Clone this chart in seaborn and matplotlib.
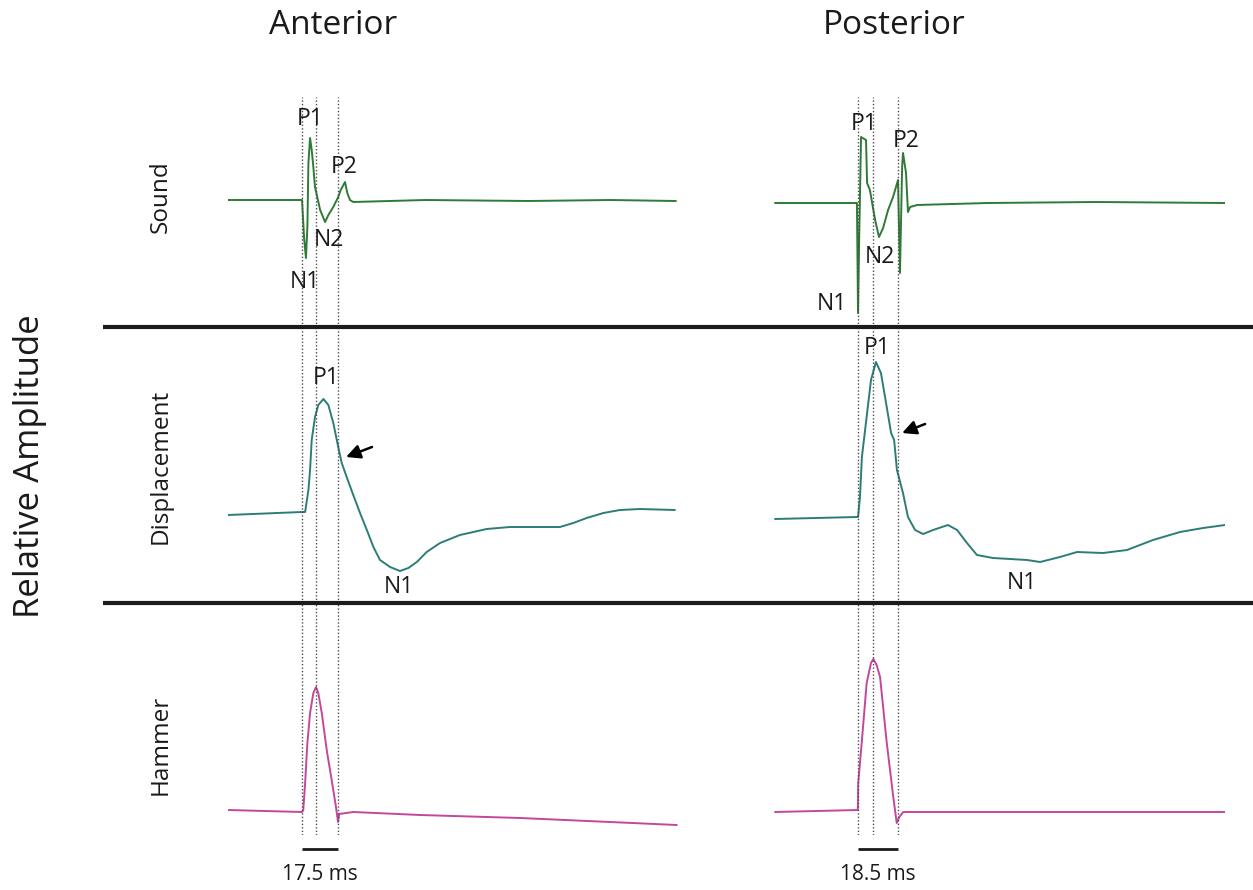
import matplotlib
matplotlib.use("Agg")
import matplotlib.pyplot as plt
from matplotlib.lines import Line2D
import seaborn as sns
import pandas as pd

# ---------------- data (time in ms from onset, relative amplitude) ----------------
columns = ["Anterior", "Posterior"]
rows = ["Sound", "Displacement", "Hammer"]

sound_ant_t = [-36.0, 0.0, 1.0, 1.9, 2.6, 3.1, 3.9, 4.7, 5.5, 6.3, 7.4, 8.8, 11.2, 12.8,
               15.2, 17.6, 18.8, 20.9, 22.0, 23.3, 24.9, 60.0, 110.0, 150.0, 181.8]
sound_ant_amp = [0, 0, -38, -58, -27, 37, 62, 50, 33, 13, 3, -10, -22, -15,
                 -7, 3, 10, 18, 7, 0, -2, 0, -1, 0, -1]

sound_post_t = [-38.4, -0.5, 0.0, 0.5, 1.4, 3.7, 4.2, 5.5, 7.9, 9.7, 11.6, 13.9, 16.2,
                18.5, 19.4, 20.4, 20.8, 22.2, 23.1, 24.1, 27.3, 60.0, 110.0, 169.7]
sound_post_amp = [-3, -3, -113, -43, 63, 60, 17, 10, -20, -37, -28, -10, 3,
                  20, -73, 33, 47, 27, -12, -7, -5, -3, -2, -3]

disp_ant_t = [-36.0, -0.1, 1.5, 3.1, 3.9, 4.7, 6.3, 7.9, 10.4, 12.8, 15.2, 17.6, 19.3,
              21.7, 24.9, 28.2, 31.5, 34.7, 37.9, 42.8, 47.6, 51.7, 55.8, 60.6, 67.1,
              76.8, 89.8, 101.1, 114.1, 125.4, 131.9, 138.4, 146.5, 154.6, 164.3, 181.3]
disp_ant_amp = [0, 3, 3, 25, 45, 75, 98, 110, 116, 110, 92, 68, 52,
                38, 20, 2, -15, -32, -45, -52, -56, -53, -47, -37, -28,
                -20, -14, -12, -12, -12, -8, -3, 2, 5, 6, 5]

disp_post_t = [-38.4, -0.5, 0.0, 0.9, 1.8, 4.2, 6.0, 8.3, 10.6, 12.5, 15.3, 16.7, 18.0,
               20.8, 23.1, 26.4, 30.1, 34.7, 41.6, 45.8, 50.4, 55.0, 62.4, 78.2, 84.2,
               93.4, 101.3, 113.3, 124.4, 136.4, 148.9, 159.6, 169.7]
disp_post_amp = [-4, -2, -2, 18, 58, 102, 135, 153, 142, 118, 82, 75, 45,
                 22, -2, -15, -19, -15, -10, -15, -28, -40, -43, -45, -47,
                 -42, -37, -38, -35, -25, -17, -13, -10]

hammer_ant_t = [-36.0, 0.0, 0.6, 1.5, 2.6, 3.9, 5.5, 6.8, 7.9, 9.6, 12.0, 14.4, 16.5,
                17.5, 18.1, 24.9, 57.4, 106.0, 149.7, 182.2]
hammer_ant_amp = [2, 0, 2, 29, 69, 99, 119, 125, 119, 99, 62, 32, 5,
                  -10, -2, 0, -3, -6, -10, -13]

hammer_post_t = [-38.4, -0.1, 0.1, 1.7, 4.0, 6.0, 7.1, 8.6, 10.2, 13.3, 16.3, 17.9,
                 19.1, 20.9, 169.7]
hammer_post_amp = [0, 2, 29, 69, 129, 149, 153, 147, 135, 69, 15, -11,
                   -5, 0, 0]

# event times marked by dotted guides (N1, P1, P2 of the sound) in ms
events_ant = [0.0, 6.8, 17.5]
events_post = [0.0, 7.1, 18.5]

# peak labels: (row, label, time, amplitude)
labels_ant = [("Sound", "P1", 3.9, 81), ("Sound", "P2", 20.4, 33),
              ("Sound", "N2", 13.1, -40), ("Sound", "N1", 1.5, -82),
              ("Displacement", "P1", 11.7, 137), ("Displacement", "N1", 47.2, -72)]
labels_post = [("Sound", "P1", 2.8, 76), ("Sound", "P2", 22.2, 59),
               ("Sound", "N2", 10.2, -57), ("Sound", "N1", -12.0, -104),
               ("Displacement", "P1", 8.8, 167), ("Displacement", "N1", 75.9, -68)]

# arrows on the displacement shoulder: (tail t, tail amp, head t, head amp)
arrow_ant = (34.0, 68, 21.4, 58)
arrow_post = (31.0, 91, 20.4, 82)

# ---------------- styling ----------------
sns.set_theme(style="white")
plt.rcParams["font.family"] = ["Open Sans", "DejaVu Sans"]

W, H = 1253, 890
fig = plt.figure(figsize=(W / 100, H / 100), dpi=100)
fig.patch.set_facecolor("white")

row_colors = {"Sound": "#2e7b36", "Displacement": "#2c7d78", "Hammer": "#c4479c"}
# vertical extent (pixels from top) and y-limits of each row
row_span = {"Sound": (97, 327), "Displacement": (327, 603), "Hammer": (603, 835)}
row_ylim = {"Sound": (-127, 103), "Displacement": (-88, 188), "Hammer": (-23, 209)}
col_span = {"Anterior": (228, 678), "Posterior": (774, 1225)}
col_xlim = {"Anterior": (-36.0, 182.8), "Posterior": (-38.85, 169.7)}

traces = {
    ("Anterior", "Sound"): (sound_ant_t, sound_ant_amp),
    ("Anterior", "Displacement"): (disp_ant_t, disp_ant_amp),
    ("Anterior", "Hammer"): (hammer_ant_t, hammer_ant_amp),
    ("Posterior", "Sound"): (sound_post_t, sound_post_amp),
    ("Posterior", "Displacement"): (disp_post_t, disp_post_amp),
    ("Posterior", "Hammer"): (hammer_post_t, hammer_post_amp),
}
events = {"Anterior": events_ant, "Posterior": events_post}
labels = {"Anterior": labels_ant, "Posterior": labels_post}
arrows = {"Anterior": arrow_ant, "Posterior": arrow_post}

label_fs = 16.5

for col in columns:
    x0, x1 = col_span[col]
    for row in rows:
        top, bottom = row_span[row]
        ax = fig.add_axes([x0 / W, 1 - bottom / H, (x1 - x0) / W, (bottom - top) / H])
        t, amp = traces[(col, row)]
        df = pd.DataFrame({"time": t, "amplitude": amp})
        sns.lineplot(data=df, x="time", y="amplitude", ax=ax, color=row_colors[row],
                     linewidth=1.4, estimator=None, sort=False)
        ax.set_xlim(*col_xlim[col])
        ax.set_ylim(*row_ylim[row])
        for ev in events[col]:
            ax.axvline(ev, color="#4d4d4d", linestyle=(0, (1, 1.5)), linewidth=1.0)
        for r, txt, lt, la in labels[col]:
            if r == row:
                ax.text(lt, la, txt, ha="center", va="center", fontsize=label_fs,
                        color="#1a1a1a")
        if row == "Displacement":
            tt, ta, ht, ha_ = arrows[col]
            ax.annotate("", xy=(ht, ha_), xytext=(tt, ta),
                        arrowprops=dict(arrowstyle="-|>,head_length=0.7,head_width=0.35",
                                        color="black", lw=1.8, shrinkA=0, shrinkB=0))
        if row == "Hammer":
            e0, e2 = events[col][0], events[col][2]
            ax.plot([e0, e2], [-37, -37], color="#1a1a1a", linewidth=2.0, clip_on=False,
                    solid_capstyle="butt")
            ax.text((e0 + e2) / 2, -63, f"{e2 - e0:.1f} ms", ha="center", va="center",
                    fontsize=15, color="#1a1a1a", clip_on=False)
        ax.set_xlabel("")
        ax.set_ylabel("")
        ax.set_axis_off()

# row separators
for ypix in (327, 603):
    fig.add_artist(Line2D([103 / W, 1.0], [1 - ypix / H] * 2, transform=fig.transFigure,
                          color="#1c1c1c", linewidth=3.0, solid_capstyle="butt"))

# column titles
fig.text(333 / W, 1 - 25 / H, "Anterior", ha="center", va="center", fontsize=24,
         color="#1a1a1a")
fig.text(894 / W, 1 - 25 / H, "Posterior", ha="center", va="center", fontsize=24,
         color="#1a1a1a")

# row names and common amplitude label
row_label_y = {"Sound": 197, "Displacement": 466, "Hammer": 745}
for row in rows:
    fig.text(161 / W, 1 - row_label_y[row] / H, row, rotation=90, ha="center",
             va="center", fontsize=17.5, color="#1a1a1a")
fig.text(30 / W, 1 - 466 / H, "Relative Amplitude", rotation=90, ha="center",
         va="center", fontsize=25, color="#1a1a1a")

fig.savefig("out.png", dpi=100, facecolor="white")
